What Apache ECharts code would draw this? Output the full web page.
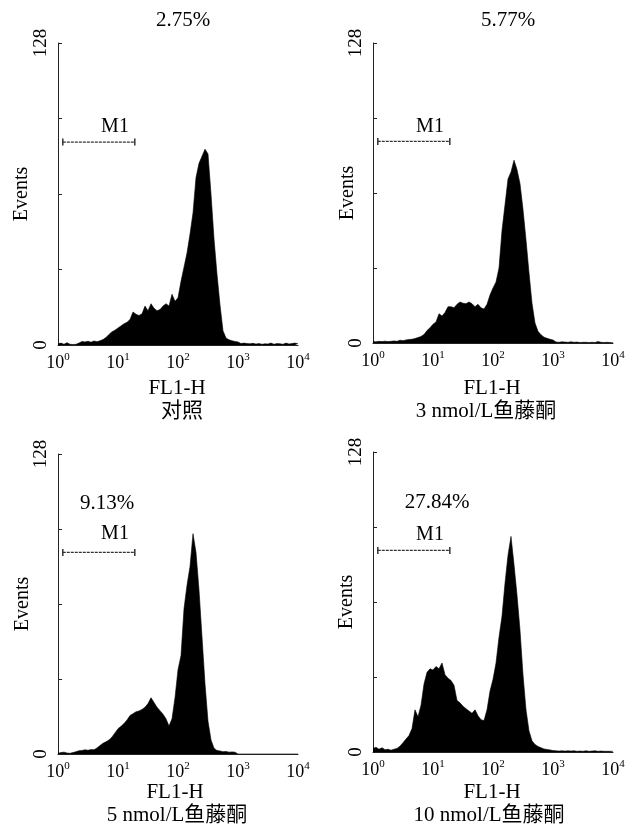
<!DOCTYPE html>
<html><head><meta charset="utf-8">
<script src="https://cdn.jsdelivr.net/npm/echarts@6/dist/echarts.min.js"></script>
<style>html,body{margin:0;padding:0;background:#fff}#c{width:635px;height:833px}</style>
</head><body><div id="c"></div>
<script>
// histogram channels, in decades of FL1-H (10^0 .. 10^4)
const channels = Array.from({length:81}, (_, i) => +(i * 0.05).toFixed(2));
const xTickLabels = ['0','1','2','3','4'];
const yTickLabels = [0, 128];
const percents = ['2.75%', '5.77%', '9.13%', '27.84%'];
const captions = ['对照', '3 nmol/L鱼藤酮', '5 nmol/L鱼藤酮', '10 nmol/L鱼藤酮'];
const m1Range = [0.08, 1.28];
const m1Level = 86;

const control = [
 0.5,0.8,0.3,1,0.3,0.2,0.3,0.8,1.5,1.3,
 1.6,1.2,1.7,1.4,1.8,2.3,3.2,4.5,5.6,6.3,
 7.2,8.1,9,9.6,10.8,14,13,12.5,13.2,16.5,
 14.5,17.5,15.6,14.5,15,16.5,17.5,16.5,21.5,18.5,
 20,27,33,39,47,56,71,77,80,83,
 81,64,45,30,17,6,3,2.2,1.8,1.5,
 1.3,0.6,0.8,0.6,0.5,0.7,0.4,0.6,0.3,0.5,
 0.4,0.8,0.3,0.6,0.5,0.3,0.8,0.4,0.6,0.8,
 0.5];
const rot3 = [
 0.6,0.5,0.7,0.6,0.8,0.6,0.7,0.9,0.7,1.2,
 1,1.3,1.5,1.6,1.9,2.3,2.8,3.6,5.3,6.5,
 8,9,12.5,11.5,13,15.5,15.5,15,16.5,17.5,
 17,16.8,17.5,16.8,15.5,16.5,15,14.5,16.5,20.5,
 23.5,26,32,48,59,70,73,78,74,68,
 57,44,30,17,8.5,5,3.5,2.5,2,1.6,
 1.3,0.4,0.3,0.5,0.4,0.3,0.5,0.3,0.4,0.2,
 0.3,0.3,0.2,0.3,0.2,0.6,0.3,0.2,0.3,0.2,
 0.2];
const rot5 = [
 0.3,0.6,0.8,0.4,0.3,0.6,1,1.4,1.5,1.8,
 1.6,1.9,1.8,2.6,3.6,4.6,5.2,6,7.3,9,
 10.8,11.8,13,14.5,16.4,17.2,18,18.4,19,20,
 21.5,24,22,20,18.5,17,15,12,15,24,
 36,42,62,72,80,94,86,70,50,30,
 14,6,2.5,1.5,1.3,1,1.1,0.8,0.9,0.8,
 0,0,0,0,0,0,0,0,0,0,
 0,0,0,0,0,0,0,0,0,0,
 0];
const rot10 = [
 1.5,2,1.2,1.8,1,1.2,0.8,1.2,1.5,2.5,
 4,5.5,7,10,18,15,20,29,34,35.5,
 35,36.5,35.5,38,33,31.5,30.5,28.5,22,21,
 19.5,18.5,17.5,16.5,18,15.5,13.8,13.4,18,26,
 31,38,49,58,72,84,92,80,67,52,
 33,18,9,4.8,3.2,2.4,1.8,1.3,1.1,0.9,
 0.6,0.5,0.4,0.5,0.4,0.5,0.4,0.5,0.3,0.4,
 0.3,0.5,0.3,0.4,0.5,0.3,0.4,0.3,0.3,0.3,
 0.3];
const histos = [control, rot3, rot5, rot10];

const SERIF = "'Liberation Serif','Times New Roman','Noto Sans CJK SC',serif";
const layout = [
  {left:58, top:43, width:240, height:302, nameGap:26, pct:[183,20], m1:[115,127], fl:[177,388], cap:[182,411]},
  {left:373, top:43, width:240, height:300, nameGap:15, pct:[508,20], m1:[430,127], fl:[492,388], cap:[486,411]},
  {left:58, top:454, width:240, height:300, nameGap:25, pct:[107,503], m1:[115,534], fl:[175,792], cap:[177,815]},
  {left:373, top:452, width:240, height:300, nameGap:16, pct:[437,502], m1:[430,535], fl:[492,792], cap:[489,815]}
];

const grid = [], xAxis = [], yAxis = [], series = [], graphic = [];
layout.forEach((L, i) => {
  grid.push({left:L.left, top:L.top, width:L.width, height:L.height});
  xAxis.push({
    type:'value', gridIndex:i, min:0, max:4, interval:1,
    axisLine:{show:true, lineStyle:{color:'#222', width:1}},
    axisTick:{show:false}, splitLine:{show:false},
    axisLabel:{margin:7, color:'#000',
      formatter: v => '{b|10}{s|' + xTickLabels[Math.round(v)] + '}',
      rich:{b:{fontFamily:SERIF, fontSize:18, lineHeight:22, color:'#000'},
            s:{fontFamily:SERIF, fontSize:11, lineHeight:11, verticalAlign:'top', color:'#000'}}}
  });
  yAxis.push({
    type:'value', gridIndex:i, min:0, max:128, interval:32,
    name:'Events', nameLocation:'middle', nameRotate:90, nameGap:L.nameGap, nameMoveOverlap:false,
    nameTextStyle:{fontFamily:SERIF, fontSize:20, color:'#000'},
    axisLine:{show:true, lineStyle:{color:'#222', width:1}},
    axisTick:{show:true, inside:true, length:4, lineStyle:{color:'#222'}},
    splitLine:{show:false},
    axisLabel:{rotate:90, margin:7, fontFamily:SERIF, fontSize:19, color:'#000',
      formatter: v => yTickLabels.includes(v) ? String(v) : ''}
  });
  series.push({
    type:'line', xAxisIndex:i, yAxisIndex:i, showSymbol:false, symbol:'none',
    data: channels.map((c, k) => [c, histos[i][k]]),
    lineStyle:{color:'#000', width:0.6}, areaStyle:{color:'#000', opacity:1},
    z:2
  });
  series.push({
    type:'line', xAxisIndex:i, yAxisIndex:i, symbol:'rect', symbolSize:[1.5,7],
    itemStyle:{color:'#333'},
    data: m1Range.map(x => [x, m1Level]),
    lineStyle:{color:'#333', width:1.3, type:[3,1]}, z:3
  });
  const txt = (t, p, size) => graphic.push({type:'text', x:p[0], y:p[1],
    style:{text:t, fill:'#000', font: size + 'px ' + SERIF, textAlign:'center', textVerticalAlign:'middle'}});
  txt(percents[i], L.pct, 21);
  txt('M1', L.m1, 20);
  txt('FL1-H', L.fl, 21);
  txt(captions[i], L.cap, 21);
});

const chart = echarts.init(document.getElementById('c'), null, {renderer:'canvas'});
chart.setOption({animation:false, backgroundColor:'#fff', grid, xAxis, yAxis, series, graphic});
</script></body></html>
